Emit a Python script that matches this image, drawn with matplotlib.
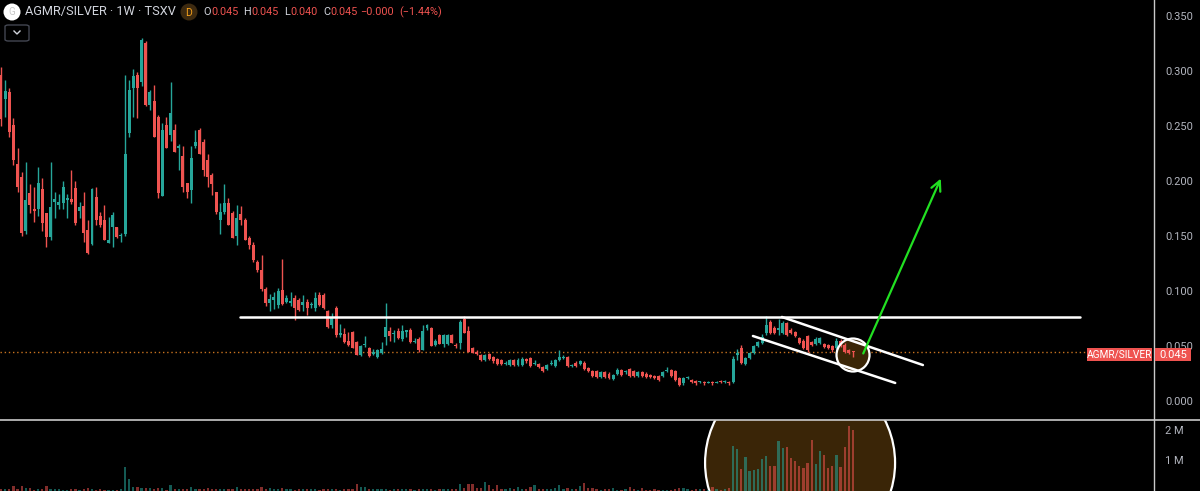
import matplotlib
matplotlib.use("Agg")
import matplotlib.pyplot as plt
from matplotlib.patches import Ellipse, Rectangle, FancyBboxPatch
from matplotlib.lines import Line2D
import numpy as np

plt.rcParams['font.family'] = ['Roboto', 'DejaVu Sans']

# weekly candles, AGMR/SILVER (TSXV)
opens = [
    .296, .275, .281, .251, .215, .204, .155, .189, .175, .175,
    .193, .171, .149, .181, .178, .180, .183, .184, .194, .173,
    .177, .155, .143, .185, .168, .165, .144, .158, .158, .150,
    .152, .244, .285, .296, .290, .325, .269, .273, .258, .186,
    .251, .242, .246, .230, .223, .198, .192, .232, .246, .235,
    .219, .205, .190, .165, .172, .180, .171, .150, .170, .165,
    .148, .142, .126, .119, .102, .089, .092, .087, .101, .090,
    .089, .094, .092, .087, .090, .087, .085, .096, .096, .082,
    .069, .085, .060, .061, .055, .063, .054, .042, .051, .048,
    .043, .040, .044, .058, .064, .061, .064, .056, .063, .065,
    .054, .056, .046, .066, .066, .051, .060, .052, .052, .060,
    .051, .053, .075, .064, .048, .045, .042, .037, .043, .040,
    .038, .037, .034, .033, .037, .033, .033, .038, .039, .034,
    .034, .031, .029, .034, .032, .037, .039, .040, .032, .035,
    .034, .035, .030, .027, .027, .022, .026, .025, .020, .025,
    .028, .026, .029, .027, .023, .026, .025, .024, .023, .023,
    .023, .027, .028, .027, .021, .016, .021, .019, .018, .017,
    .017, .016, .017, .016, .018, .017, .017, .017, .042, .048,
    .034, .039, .044, .050, .053, .062, .072, .066, .065, .062,
    .071, .065, .063, .057, .055, .059, .054, .052, .053, .052,
    .051, .050, .048, .055, .051, .046, .0455,
]
highs = [
    .304, .292, .285, .257, .230, .208, .217, .197, .195, .213,
    .203, .171, .217, .190, .188, .200, .188, .210, .200, .181,
    .190, .165, .194, .195, .172, .178, .167, .172, .158, .153,
    .296, .292, .302, .299, .330, .327, .283, .287, .260, .253,
    .258, .290, .252, .234, .232, .198, .232, .246, .248, .238,
    .225, .207, .190, .180, .197, .185, .173, .178, .177, .166,
    .150, .145, .128, .133, .104, .097, .099, .103, .129, .096,
    .099, .096, .094, .096, .093, .090, .099, .099, .098, .083,
    .080, .086, .070, .066, .063, .064, .055, .051, .059, .049,
    .047, .047, .054, .089, .067, .065, .066, .069, .065, .066,
    .057, .058, .069, .070, .067, .056, .061, .061, .061, .061,
    .053, .074, .077, .068, .049, .046, .043, .043, .044, .041,
    .039, .038, .036, .038, .038, .039, .040, .039, .040, .037,
    .035, .032, .034, .037, .038, .046, .042, .041, .034, .036,
    .037, .036, .031, .028, .028, .027, .027, .026, .025, .030,
    .029, .028, .030, .028, .027, .027, .026, .025, .024, .024,
    .027, .031, .029, .028, .022, .022, .023, .020, .019, .018,
    .018, .018, .018, .018, .019, .019, .018, .041, .047, .051,
    .040, .045, .051, .055, .061, .077, .074, .068, .075, .073,
    .072, .066, .064, .058, .056, .060, .055, .058, .058, .053,
    .052, .051, .057, .056, .053, .047, .0455,
]
lows = [
    .250, .258, .240, .215, .190, .150, .152, .171, .163, .168,
    .155, .140, .146, .166, .175, .175, .166, .179, .160, .166,
    .145, .134, .142, .160, .158, .146, .144, .140, .148, .145,
    .150, .240, .258, .257, .286, .268, .265, .240, .185, .186,
    .230, .236, .226, .210, .190, .185, .180, .230, .225, .205,
    .195, .187, .170, .152, .170, .160, .148, .142, .160, .146,
    .138, .126, .117, .100, .086, .082, .084, .085, .087, .089,
    .086, .074, .082, .082, .078, .085, .082, .086, .084, .066,
    .066, .058, .058, .053, .050, .048, .042, .041, .049, .040,
    .042, .039, .043, .051, .055, .054, .056, .055, .058, .053,
    .053, .045, .046, .065, .050, .050, .052, .049, .051, .053,
    .048, .047, .062, .045, .044, .042, .036, .036, .037, .035,
    .033, .033, .033, .032, .032, .032, .032, .035, .031, .033,
    .030, .026, .028, .033, .031, .036, .038, .031, .031, .031,
    .033, .028, .026, .022, .021, .021, .021, .020, .019, .024,
    .023, .025, .022, .022, .022, .022, .021, .021, .020, .018,
    .022, .026, .022, .018, .014, .015, .020, .016, .015, .016,
    .015, .016, .015, .016, .016, .016, .015, .016, .037, .034,
    .033, .038, .043, .049, .052, .060, .061, .061, .060, .061,
    .059, .061, .058, .052, .047, .045, .050, .051, .052, .048,
    .047, .045, .047, .049, .044, .043, .040,
]
closes = [
    .256, .282, .245, .219, .195, .153, .183, .178, .173, .198,
    .162, .149, .176, .184, .181, .195, .185, .181, .162, .176,
    .153, .135, .193, .165, .160, .146, .146, .169, .149, .151,
    .225, .283, .295, .285, .328, .269, .281, .240, .189, .246,
    .230, .262, .226, .232, .195, .190, .221, .235, .225, .210,
    .204, .197, .172, .172, .180, .160, .148, .166, .165, .146,
    .142, .128, .119, .102, .089, .093, .095, .100, .088, .094,
    .091, .085, .083, .090, .085, .088, .094, .087, .085, .067,
    .076, .060, .062, .054, .051, .048, .042, .050, .052, .041,
    .045, .046, .047, .067, .059, .062, .057, .064, .065, .054,
    .055, .046, .064, .069, .050, .055, .052, .060, .060, .053,
    .050, .072, .062, .045, .044, .043, .037, .042, .038, .036,
    .034, .034, .035, .037, .033, .037, .038, .036, .032, .035,
    .031, .027, .033, .035, .037, .040, .040, .032, .033, .032,
    .036, .029, .027, .023, .022, .026, .022, .021, .024, .028,
    .024, .027, .023, .023, .026, .023, .022, .022, .021, .019,
    .026, .028, .023, .019, .015, .021, .022, .017, .016, .017,
    .016, .017, .016, .017, .017, .018, .016, .038, .044, .035,
    .039, .044, .050, .054, .058, .069, .062, .062, .066, .071,
    .060, .062, .059, .053, .048, .046, .051, .056, .057, .049,
    .048, .046, .055, .050, .045, .044, .0449,
]
# volume in millions of shares
volumes = [
    .04, .05, .05, .14, .05, .14, .07, .07, .03, .05,
    .04, .14, .05, .05, .05, .03, .03, .05, .05, .03,
    .05, .10, .05, .03, .05, .03, .03, .03, .03, .05,
    .79, .40, .12, .12, .07, .09, .07, .05, .09, .07,
    .03, .20, .05, .06, .04, .05, .11, .05, .04, .06,
    .09, .05, .04, .06, .05, .04, .05, .12, .04, .05,
    .06, .04, .05, .12, .05, .10, .04, .05, .10, .04,
    .05, .03, .05, .04, .06, .04, .05, .03, .04, .05,
    .04, .05, .03, .05, .04, .06, .23, .12, .12, .05,
    .04, .06, .04, .05, .03, .05, .04, .06, .05, .04,
    .03, .05, .04, .05, .04, .03, .05, .04, .05, .04,
    .05, .23, .09, .23, .23, .08, .10, .28, .17, .05,
    .17, .05, .06, .08, .05, .12, .06, .05, .12, .17,
    .05, .06, .04, .06, .08, .17, .05, .08, .06, .05,
    .14, .26, .08, .08, .05, .03, .05, .06, .08, .03,
    .03, .04, .12, .04, .02, .09, .02, .01, .05, .03,
    .03, .02, .03, .06, .08, .08, .06, .03, .05, .04,
    .05, .03, .11, .04, .03, .04, .07, 1.50, 1.39, .72,
    1.12, .64, .68, .72, 1.06, 1.14, .81, .81, 1.64, 1.42,
    1.44, 1.08, .98, .81, .76, .92, 1.70, .87, 1.33, 1.17,
    .76, .81, 1.19, .79, 1.44, 2.14, 2.01,
]
price_ticks = [0.0, 0.05, 0.10, 0.15, 0.20, 0.25, 0.30, 0.35]
vol_ticks = [1, 2]
last_price = 0.045

# drawings (bar index, price)
resistance = ((57.8, 0.0764), (260.9, 0.0764))
chan_upper = ((188.8, 0.0764), (222.9, 0.0327))
chan_lower = ((181.8, 0.0591), (216.2, 0.0164))
arrow_from = (208.2, 0.0409)
arrow_to = (227.5, 0.2045)

UP = '#26a69a'
DOWN = '#ef5350'
BG = '#000000'
TXT = '#d1d4dc'
AXC = '#b2b5be'

W, H = 1200, 491
AX_R = 1154          # right edge of the plot area, px
SEP = 419            # price / volume separator, px
STEP = 4.136         # px per bar

fig = plt.figure(figsize=(W / 100, H / 100), dpi=100, facecolor=BG)
ax = fig.add_axes([0, 1 - SEP / H, AX_R / W, SEP / H], facecolor=BG)
axv = fig.add_axes([0, 0, AX_R / W, (H - SEP - 1) / H], facecolor=BG, sharex=ax)

o = np.array(opens); h = np.array(highs); l = np.array(lows); c = np.array(closes)
x = np.arange(len(o))
up = c >= o
cols = np.where(up, UP, DOWN)

ax.vlines(x, l, h, colors=cols, lw=1, zorder=3)
body = np.maximum(np.abs(c - o), 0.0008)
ax.bar(x, body, bottom=np.minimum(o, c), width=0.72, color=cols, lw=0, zorder=4)

ax.set_xlim(-1 / STEP, (AX_R - 1) / STEP)
ax.set_ylim((401 - SEP) / 1100, 401 / 1100)

# dotted last price line
ax.axhline(last_price, xmin=0, xmax=1087 / AX_R, color='#c8731f', lw=1,
           ls=(0, (1, 2)), zorder=2)

# trend lines
for (p0, p1) in (resistance, chan_upper, chan_lower):
    ax.plot([p0[0], p1[0]], [p0[1], p1[1]], color='white', lw=1.8,
            solid_capstyle='round', zorder=5)

# small circle around last candles
ax.add_patch(Ellipse((206, 0.0418), 33 / STEP, 33 / 1100, facecolor='#3b2607',
                     edgecolor='none', zorder=2.5))
ax.add_patch(Ellipse((206, 0.0418), 33 / STEP, 33 / 1100, facecolor='none',
                     edgecolor='white', lw=1.6, zorder=5))

ax.annotate('', xy=arrow_to, xytext=arrow_from,
            arrowprops=dict(arrowstyle='->,head_length=0.7,head_width=0.35',
                            color='#22e022', lw=1.6), zorder=6)

# volume pane
vcols = np.where(up, UP, DOWN)
axv.add_patch(Ellipse((193.2, 0.92), 190 / STEP, 190 / 30, facecolor='#3a2507',
                      edgecolor='white', lw=1.6, zorder=1))
axv.bar(x, volumes, width=0.55, color=vcols, alpha=0.55, lw=0, zorder=3)
axv.set_ylim(-0.5 / 30, (490.5 - 420) / 30)

for a in (ax, axv):
    for s in a.spines.values():
        s.set_visible(False)
    a.tick_params(axis='x', bottom=False, labelbottom=False)
    a.yaxis.tick_right()
    a.tick_params(axis='y', length=0, pad=8, labelsize=8, labelcolor=AXC)

ax.set_yticks(price_ticks)
ax.set_yticklabels([f'{t:.3f}' for t in price_ticks])
axv.set_yticks(vol_ticks)
axv.set_yticklabels([f'{t} M' for t in vol_ticks])


def fx(px):
    return px / W


def fy(py):
    return 1 - py / H


# pane borders
fig.add_artist(Line2D([fx(AX_R), fx(AX_R)], [0, 1], color='#c9c9c9', lw=1))
fig.add_artist(Line2D([0, 1], [fy(SEP + 0.5), fy(SEP + 0.5)], color='#c9c9c9', lw=1.2))

# last price tag (covers most of the 0.050 label, as on the chart)
fig.add_artist(Rectangle((fx(1087), fy(361)), fx(1152 - 1087), 13.5 / H,
                         facecolor=DOWN, edgecolor='none', zorder=10))
fig.add_artist(Rectangle((fx(1155), fy(361)), fx(1191 - 1155), 13.5 / H,
                         facecolor=DOWN, edgecolor='none', zorder=10))
fig.text(fx(1119.5), fy(354.5), 'AGMR/SILVER', color='white', fontsize=7.3,
         ha='center', va='center', zorder=11)
fig.text(fx(1173), fy(354.5), f'{last_price:.3f}', color='white', fontsize=8,
         ha='center', va='center', zorder=11)

# header
fig.add_artist(Ellipse((fx(12), fy(12)), 17 / W, 17 / H, facecolor='white',
                       edgecolor='none'))
fig.text(fx(12), fy(12), 'G', color='#c8c8c8', fontsize=7, ha='center', va='center')
fig.text(fx(25), fy(12), 'AGMR/SILVER · 1W · TSXV', color=TXT, fontsize=9.2,
         va='center', ha='left')
fig.add_artist(Ellipse((fx(189), fy(12)), 17 / W, 17 / H, facecolor='#3d2a10',
                       edgecolor='none'))
fig.text(fx(189), fy(12.5), 'D', color='#f7a21b', fontsize=7.5, ha='center', va='center')
hdr = [('O', 203, TXT), ('0.045', 211, DOWN), ('H', 243, TXT), ('0.045', 251, DOWN),
       ('L', 284, TXT), ('0.040', 290, DOWN), ('C', 323, TXT), ('0.045', 330, DOWN),
       ('−0.000', 360, DOWN), ('(−1.44%)', 399, DOWN)]
for t, px, col in hdr:
    fig.text(fx(px), fy(12), t, color=col, fontsize=7.8, va='center', ha='left')

# dropdown button
fig.add_artist(FancyBboxPatch((fx(5), fy(41)), fx(24), 16 / H,
                              boxstyle='round,pad=0,rounding_size=0.003',
                              facecolor=BG, edgecolor='#434651', lw=1))
fig.add_artist(Line2D([fx(14), fx(17), fx(20)], [fy(31), fy(34), fy(31)],
                      color=TXT, lw=1))

fig.savefig('out.png', dpi=100, facecolor=BG)
